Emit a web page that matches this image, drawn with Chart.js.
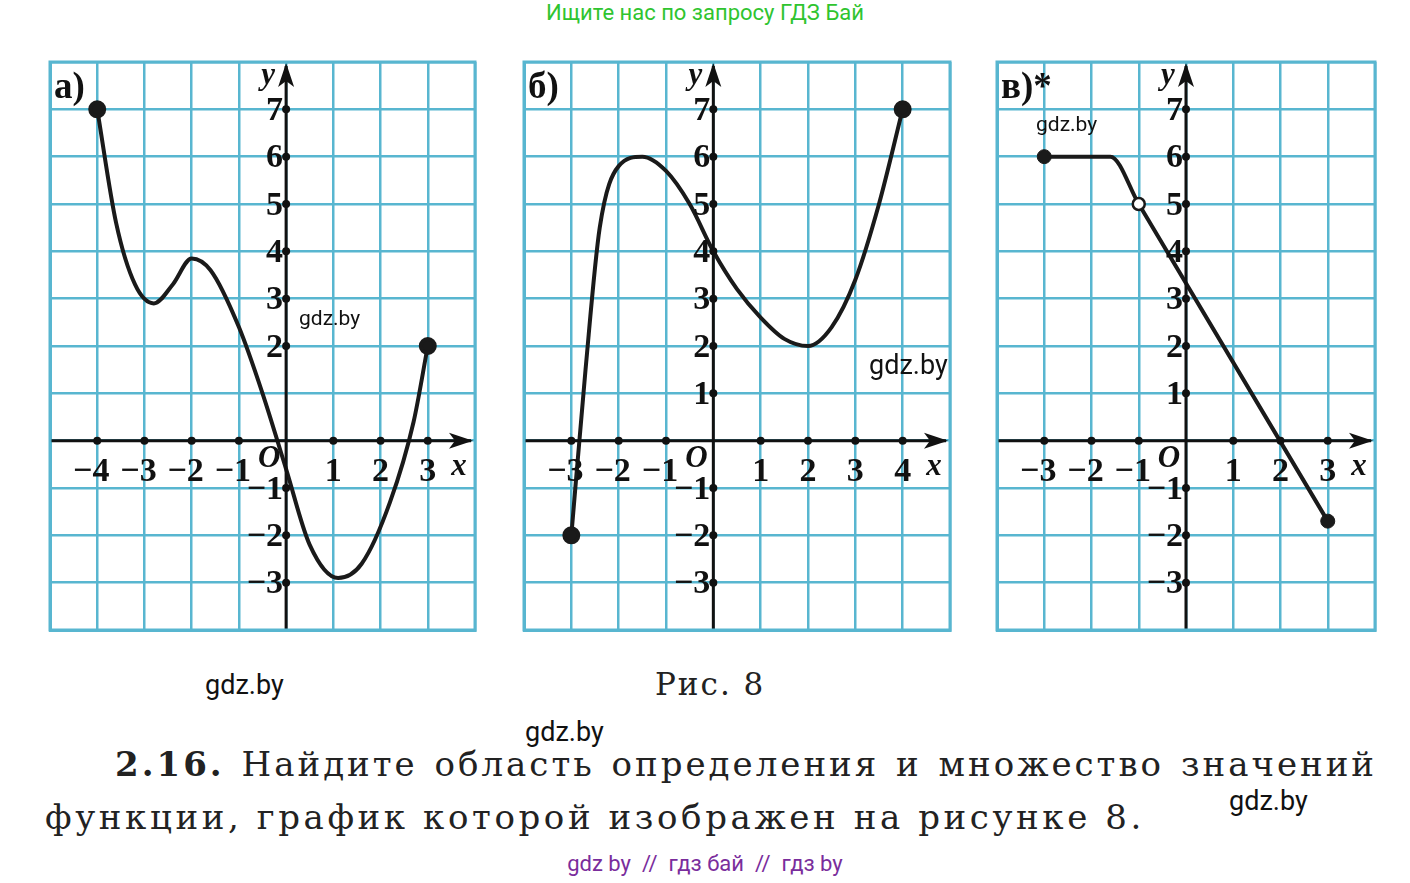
<!DOCTYPE html>
<html><head><meta charset="utf-8">
<script src="https://cdn.jsdelivr.net/npm/chart.js@4/dist/chart.umd.min.js"></script>
<style>
body{margin:0;width:1410px;height:883px;background:#fff;position:relative;overflow:hidden;font-family:"Liberation Serif",serif}
.c{position:absolute}
.t{position:absolute;white-space:nowrap}
.wm{font-family:Roboto,"Open Sans",sans-serif;font-size:24px;color:#111}
.p{font-family:"DejaVu Serif",serif;font-size:34px;color:#222;letter-spacing:3.6px}
</style></head><body>
<div class="t" style="left:0;width:1410px;top:0;text-align:center;font-family:Roboto,sans-serif;font-size:22px;color:#2fc42f">Ищите нас по запросу ГДЗ Бай</div>
<div class="c" style="left:48px;top:60px;width:429px;height:572px"><canvas id="ca"></canvas></div>
<div class="c" style="left:522px;top:60px;width:430px;height:572px"><canvas id="cb"></canvas></div>
<div class="c" style="left:995px;top:60px;width:382px;height:572px"><canvas id="cc"></canvas></div>
<div class="t wm" style="left:299px;top:306px;font-size:21px">gdz.by</div>
<div class="t wm" style="left:869px;top:349px;font-size:27px">gdz.by</div>
<div class="t wm" style="left:1036px;top:112px;font-size:21px">gdz.by</div>
<div class="t wm" style="left:205px;top:669px;font-size:27px">gdz.by</div>
<div class="t wm" style="left:525px;top:716px;font-size:27px">gdz.by</div>
<div class="t wm" style="left:1229px;top:785px;font-size:27px">gdz.by</div>
<div class="t p" style="left:655px;top:666px;font-size:31px;letter-spacing:2px">Рис. 8</div>
<div class="t p" style="left:115px;top:744px;width:1262px;letter-spacing:3px;text-align:justify;text-align-last:justify"><b>2.16.</b> Найдите область определения и множество значений</div>
<div class="t p" style="left:45px;top:797px">функции, график которой изображен на рисунке 8.</div>
<div class="t" style="left:0;width:1410px;top:851px;text-align:center;font-family:Roboto,sans-serif;font-size:22px;color:#7a2d9c">gdz by &nbsp;// &nbsp;гдз бай &nbsp;// &nbsp;гдз by</div>
<script>
const aX=[-4,-3.6,-3.2,-2.8,-2.4,-2,-1.6,-1,-0.5,0,0.5,1.1,1.6,2.2,2.7,3];
const aY=[7,4.6,3.3,2.9,3.3,3.85,3.6,2.4,1,-0.6,-2.2,-2.9,-2.6,-1.3,0.4,2];
const bX=[-3,-2.7,-2.4,-2,-1.5,-1,-0.5,0,0.5,1,1.5,2,2.5,3,3.5,4];
const bY=[-2,1.5,4.5,5.8,6,5.7,5.0,4,3.2,2.6,2.15,2,2.4,3.4,5,7];
const cX=[-3,-1.6,-1,3];
const cY=[6,6,5,-1.7];
const aXt=[-4,-3,-2,-1,1,2,3], bXt=[-3,-2,-1,1,2,3,4], cXt=[-3,-2,-1,1,2,3];
const aYt=[7,6,5,4,3,2,-1,-2,-3], bYt=[7,6,5,4,3,2,1,-1,-2,-3], cYt=[7,6,5,4,3,2,1,-1,-2,-3];
const GRID='#58b6d0';
const font='bold 34px "Liberation Serif", serif';
const axesPlugin={id:'ax',afterDatasetsDraw(ch,a,o){
 const c=ch.ctx,x=ch.scales.x,y=ch.scales.y,ca=ch.chartArea;
 const x0=x.getPixelForValue(0),y0=y.getPixelForValue(0);
 c.save();c.strokeStyle='#111';c.fillStyle='#111';c.lineWidth=3;
 c.beginPath();c.moveTo(ca.left,y0);c.lineTo(ca.right-4,y0);c.moveTo(x0,ca.bottom);c.lineTo(x0,ca.top+4);c.stroke();
 c.beginPath();c.moveTo(ca.right-2,y0);c.lineTo(ca.right-26,y0-8);c.lineTo(ca.right-20,y0);c.lineTo(ca.right-26,y0+8);c.closePath();c.fill();
 c.beginPath();c.moveTo(x0,ca.top+1);c.lineTo(x0-8,ca.top+25);c.lineTo(x0,ca.top+19);c.lineTo(x0+8,ca.top+25);c.closePath();c.fill();
 c.font=font;c.textBaseline='middle';
 for(const v of o.xt){const px=x.getPixelForValue(v);c.beginPath();c.arc(px,y0,4,0,7);c.fill();
  c.textAlign='center';c.fillText(v<0?'\u2212'+(-v):String(v),px-(v<0?6:0),y0+32);}
 for(const v of o.yt){const py=y.getPixelForValue(v);c.beginPath();c.arc(x0,py,4,0,7);c.fill();
  c.textAlign='right';c.fillText(v<0?'\u2212'+(-v):String(v),x0-3,py+2);}
 c.font='italic bold 31px "Liberation Serif", serif';c.textAlign='center';
 c.fillText('O',x0-17,y0+18);c.fillText('x',ca.right-16,y0+26);c.fillText('y',x0-18,ca.top+14);
 c.font='bold 37px "Liberation Serif", serif';c.textAlign='left';c.fillText(o.lab,ca.left+4,ca.top+26);
 c.restore();}};
function mk(id,xs,ys,xmin,xmax,xt,yt,lab,extra){
 const data=xs.map((v,i)=>({x:v,y:ys[i]}));
 const n=data.length;
 const ds=Object.assign({data,borderColor:'#1a1a1a',borderWidth:4,tension:0.4,cubicInterpolationMode:'monotone',clip:10,
  pointRadius:data.map((d,i)=>i==0||i==n-1?7:0),pointBackgroundColor:'#1a1a1a',pointBorderColor:'#1a1a1a'},extra||{});
 new Chart(document.getElementById(id),{type:'line',data:{datasets:[ds]},
  options:{responsive:true,maintainAspectRatio:false,animation:false,layout:{padding:2,autoPadding:false},
   plugins:{legend:{display:false},tooltip:{enabled:false},ax:{xt,yt,lab}},
   scales:{x:{type:'linear',min:xmin,max:xmax,ticks:{display:false,stepSize:1},grid:{color:GRID,lineWidth:2.5,drawTicks:false},border:{color:GRID,width:3}},
    y:{type:'linear',min:-4,max:8,ticks:{display:false,stepSize:1},grid:{color:GRID,lineWidth:2.5,drawTicks:false},border:{color:GRID,width:3}}}},
  plugins:[axesPlugin,{id:'frame',afterDraw(ch){const c=ch.ctx,a=ch.chartArea;c.save();c.strokeStyle=GRID;c.lineWidth=3;c.strokeRect(a.left,a.top,a.width,a.height);c.restore();}}]});
}
mk('ca',aX,aY,-5,4,aXt,aYt,'а)');
mk('cb',bX,bY,-4,5,bXt,bYt,'б)');
mk('cc',cX,cY,-4,4,cXt,cYt,'в)*',{tension:0,pointRadius:[7,0,6,7],pointBackgroundColor:['#1a1a1a','#1a1a1a','#fff','#1a1a1a'],pointBorderWidth:[1,1,2.5,1]});
</script></body></html>
